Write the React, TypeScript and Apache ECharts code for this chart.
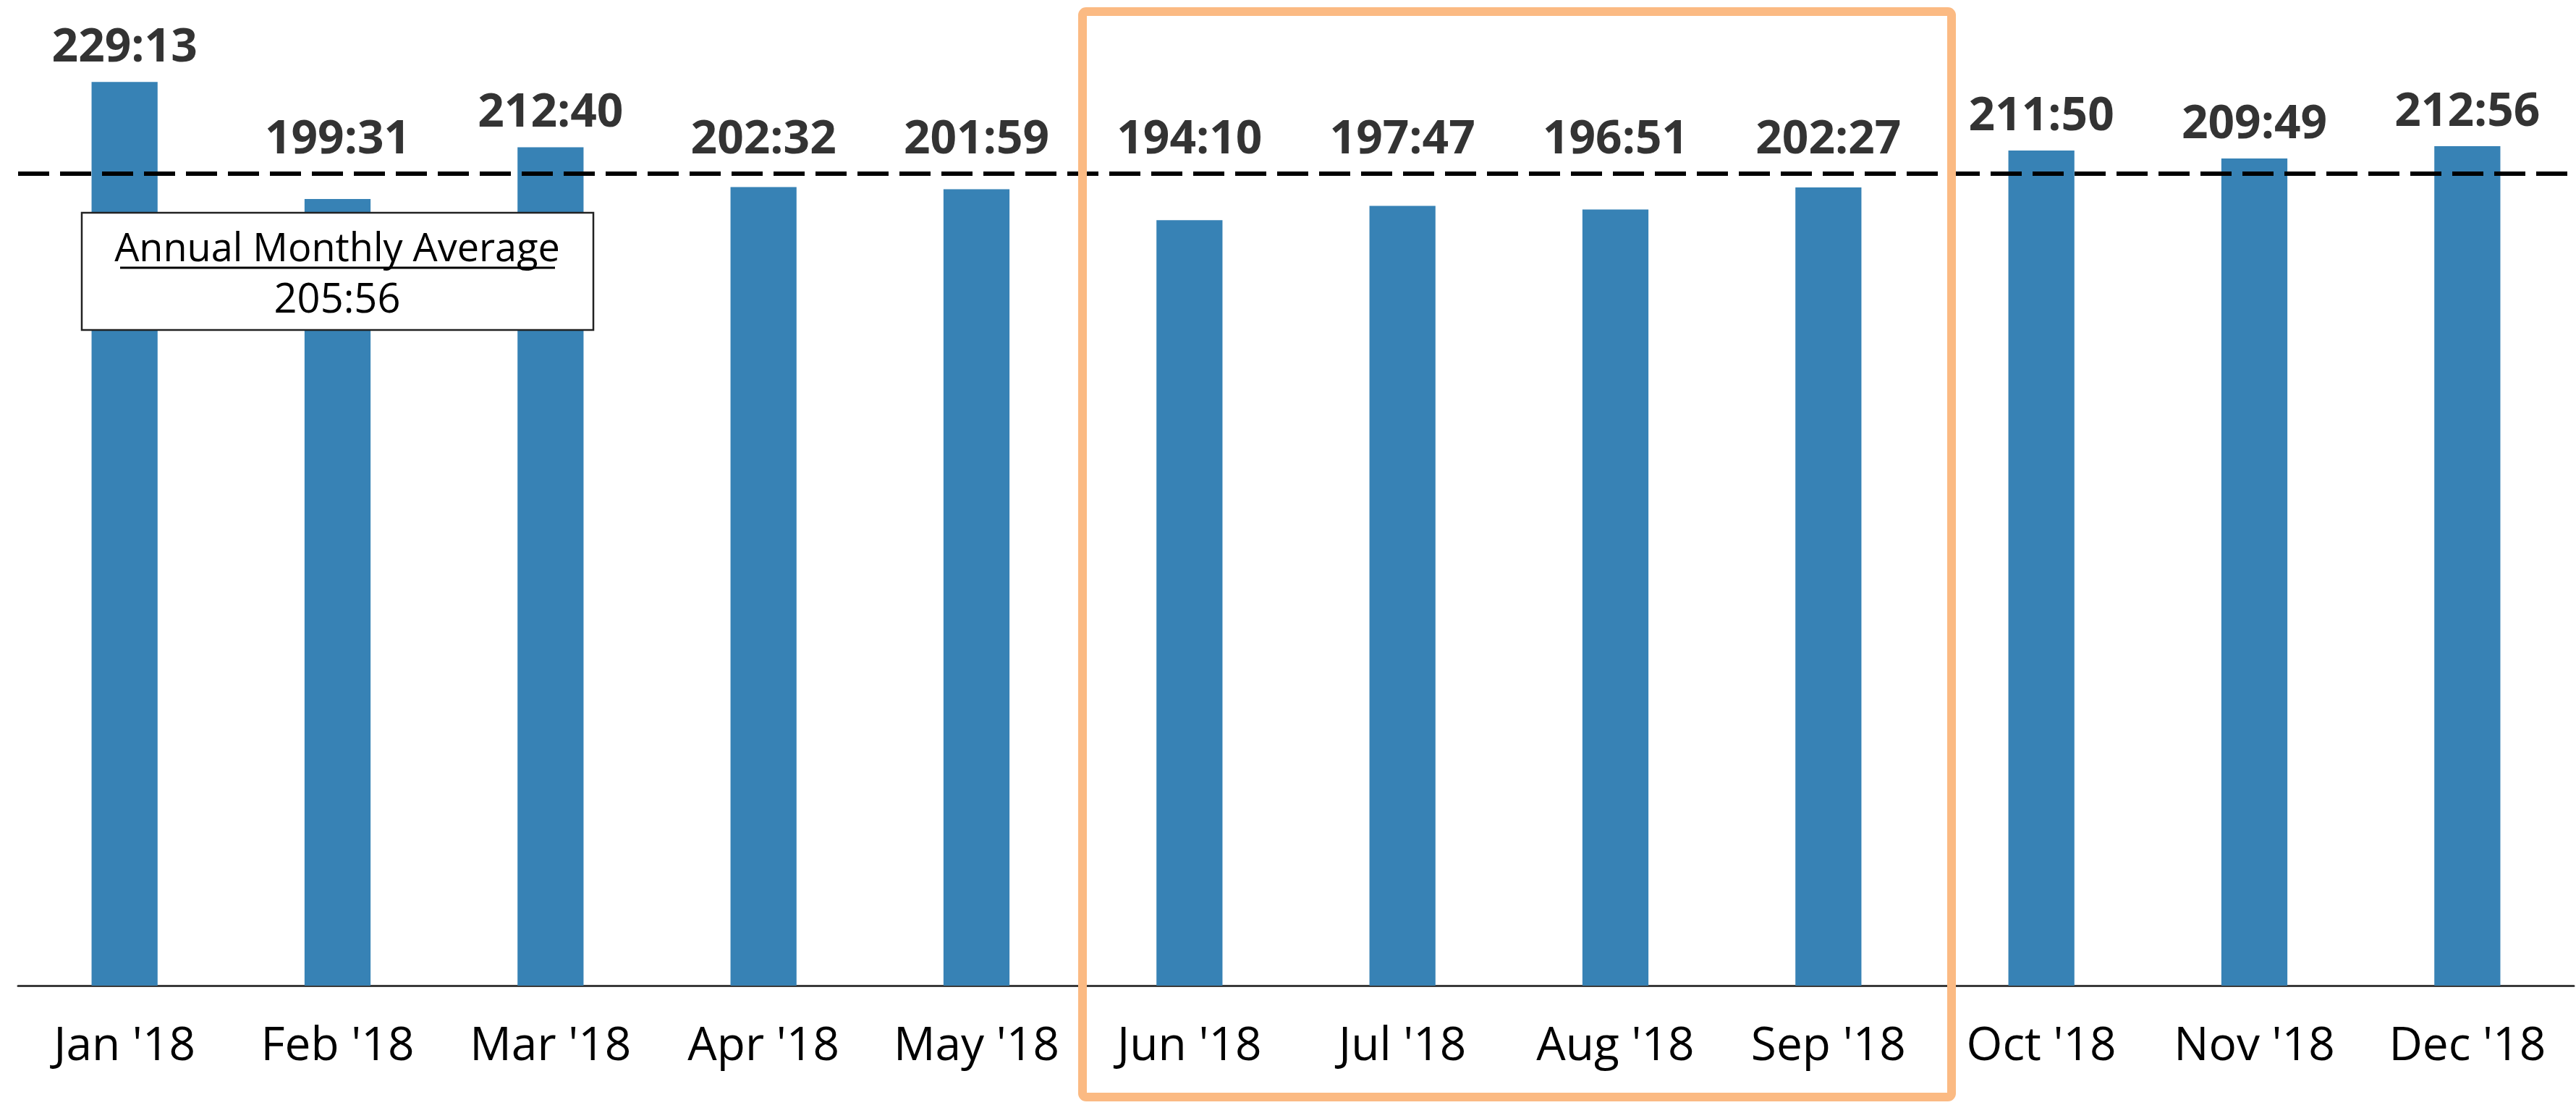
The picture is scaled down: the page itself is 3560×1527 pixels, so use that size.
import React, { useEffect, useRef } from "react";
import * as echarts from "echarts";

const categories = ["Jan '18", "Feb '18", "Mar '18", "Apr '18", "May '18", "Jun '18", "Jul '18", "Aug '18", "Sep '18", "Oct '18", "Nov '18", "Dec '18"];
const durationLabels = ["229:13", "199:31", "212:40", "202:32", "201:59", "194:10", "197:47", "196:51", "202:27", "211:50", "209:49", "212:56"];
const averageLabel = "205:56";
const annotationTitle = "Annual Monthly Average";

const toHours = (s: string) => {
  const [h, m] = s.split(":").map(Number);
  return h + m / 60;
};

const values = durationLabels.map(toHours);
const averageValue = toHours(averageLabel);
const labelAnchors = values.map((v) => Math.max(v, averageValue));

const FONT = "'Open Sans', 'Noto Sans', sans-serif";

export default function App() {
  const ref = useRef<HTMLDivElement>(null);
  useEffect(() => {
    document.body.style.margin = "0";
    if (!ref.current) return;
    const chart = echarts.init(ref.current, undefined, { renderer: "svg" });
    chart.setOption({
      animation: false,
      backgroundColor: "#ffffff",
      grid: { left: 25, right: 3, top: 0, bottom: 165, containLabel: false },
      xAxis: {
        type: "category",
        data: categories,
        boundaryGap: true,
        axisLine: { show: true, lineStyle: { color: "#3a3a3a", width: 3 } },
        axisTick: { show: false },
        axisLabel: { color: "#000000", fontSize: 64, fontFamily: FONT, margin: 46, interval: 0 },
        splitLine: { show: false },
      },
      yAxis: {
        type: "value",
        min: 0,
        max: 250,
        show: false,
        splitLine: { show: false },
      },
      series: [
        {
          type: "bar",
          data: values,
          barWidth: "31%",
          itemStyle: { color: "#3782B5" },
          silent: true,
          z: 2,
          markLine: {
            silent: true,
            symbol: ["none", "none"],
            label: { show: false },
            lineStyle: { color: "#000", type: [43, 15], width: 6 },
            data: [{ yAxis: averageValue }],
          },
        },
        {
          type: "scatter",
          data: labelAnchors,
          symbol: "rect",
          symbolSize: 1,
          itemStyle: { color: "rgba(0,0,0,0)" },
          silent: true,
          label: {
            show: true,
            position: "top",
            distance: 20,
            color: "#000000",
            fontSize: 64,
            fontWeight: "bold",
            fontFamily: FONT,
            formatter: (p: any) => durationLabels[p.dataIndex],
          },
        },
      ],
      graphic: [
        {
          type: "rect",
          z: 100,
          shape: { x: 1496, y: 16, width: 1201, height: 1500, r: 5 },
          style: { fill: "none", stroke: "#FBBA83", lineWidth: 12 },
        },
        {
          type: "rect",
          z: 100,
          shape: { x: 113, y: 294, width: 707, height: 162 },
          style: { fill: "#fff", stroke: "#222", lineWidth: 2.5 },
        },
        {
          type: "text",
          z: 101,
          style: {
            x: 466,
            y: 340,
            text: annotationTitle,
            fill: "#000",
            fontSize: 54,
            lineHeight: 54,
            fontFamily: FONT,
            align: "center",
            verticalAlign: "middle",
          },
        },
        {
          type: "line",
          z: 101,
          shape: { x1: 166, y1: 370, x2: 767, y2: 370 },
          style: { stroke: "#000", lineWidth: 3 },
        },
        {
          type: "text",
          z: 101,
          style: {
            x: 466,
            y: 410,
            text: averageLabel,
            fill: "#000",
            fontSize: 56,
            lineHeight: 56,
            fontFamily: FONT,
            align: "center",
            verticalAlign: "middle",
          },
        },
      ],
    });
    return () => chart.dispose();
  }, []);
  return <div ref={ref} style={{ width: 3560, height: 1527 }} />;
}
